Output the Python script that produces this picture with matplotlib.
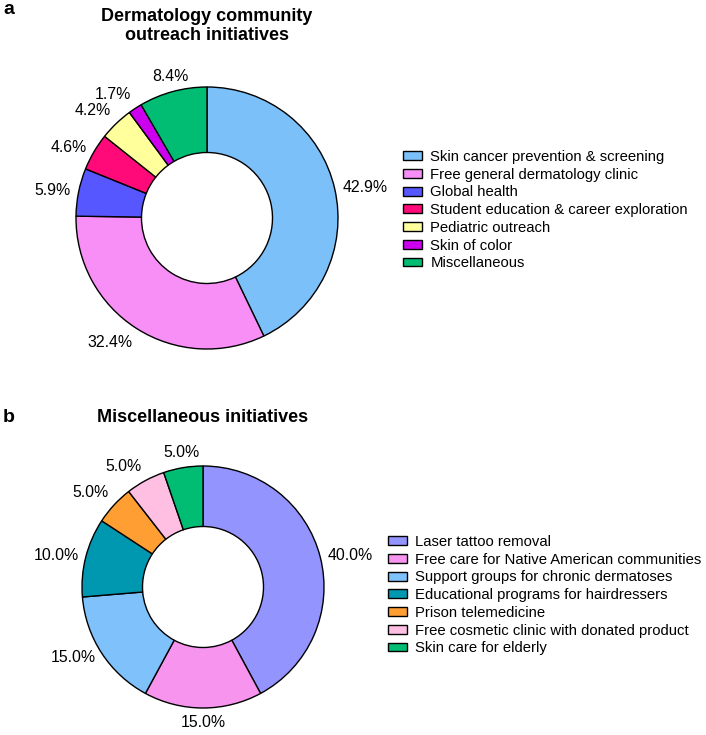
import numpy as np
import matplotlib
matplotlib.use("Agg")
import matplotlib.pyplot as plt

plt.rcParams['font.family'] = ['Liberation Sans', 'DejaVu Sans']

# Data
top_labels = [
    "Skin cancer prevention & screening",
    "Free general dermatology clinic",
    "Global health",
    "Student education & career exploration",
    "Pediatric outreach",
    "Skin of color",
    "Miscellaneous",
]
top_values = [42.9, 32.4, 5.9, 4.6, 4.2, 1.7, 8.4]
top_colors = ['#7cc0fa', '#f78ff7', '#5757ff', '#ff0a78', '#ffff9c', '#cc00ee', '#00bd73']

bot_labels = [
    "Laser tattoo removal",
    "Free care for Native American communities",
    "Support groups for chronic dermatoses",
    "Educational programs for hairdressers",
    "Prison telemedicine",
    "Free cosmetic clinic with donated product",
    "Skin care for elderly",
]
bot_values = [40.0, 15.0, 15.0, 10.0, 5.0, 5.0, 5.0]
bot_colors = ['#9494ff', '#f794ee', '#7fc1fb', '#0097b0', '#ff9f33', '#ffbfe3', '#00bd73']

W, H = 706, 735
fig = plt.figure(figsize=(W / 100, H / 100), dpi=100)


def donut(cx, cy, r, values, colors, names, leg_xy):
    # axes sized so that radius 1 == r pixels
    half = 1.45 * r
    ax = fig.add_axes([(cx - half) / W, (H - cy - half) / H, 2 * half / W, 2 * half / H])
    wedges, texts = ax.pie(
        values,
        colors=colors,
        labels=[f"{v:.1f}%" for v in values],
        labeldistance=1.06,
        startangle=90,
        counterclock=False,
        wedgeprops=dict(width=0.5, edgecolor='black', linewidth=1.0),
        textprops=dict(fontsize=11.4),
    )
    # tidy label alignment around the ring
    for w, t in zip(wedges, texts):
        ang = np.deg2rad((w.theta1 + w.theta2) / 2)
        dx, dy = np.cos(ang), np.sin(ang)
        t.set_ha('center' if abs(dx) < 0.3 else ('left' if dx > 0 else 'right'))
        t.set_va('center' if abs(dy) < 0.6 else ('bottom' if dy > 0 else 'top'))
    ax.set_xlim(-1.45, 1.45)
    ax.set_ylim(-1.45, 1.45)
    ax.set_aspect('equal')
    ax.axis('off')
    fig.legend(
        wedges, names,
        loc='upper left',
        bbox_to_anchor=(leg_xy[0] / W, 1 - leg_xy[1] / H),
        bbox_transform=fig.transFigure,
        frameon=False,
        fontsize=10.7,
        handlelength=1.3,
        handleheight=0.54,
        handletextpad=0.55,
        labelspacing=0.25,
        borderpad=0,
        borderaxespad=0,
    )
    return ax


donut(207, 218, 131, top_values, top_colors, top_labels, (403, 150))
donut(203, 587, 121, bot_values, bot_colors, bot_labels, (388, 535))

# Titles and panel letters
fig.text(207 / W, 1 - 26 / H, "Dermatology community\noutreach initiatives",
         ha='center', va='center', fontsize=13, fontweight='bold', linespacing=1.1)
fig.text(203 / W, 1 - 417 / H, "Miscellaneous initiatives",
         ha='center', va='center', fontsize=13, fontweight='bold')
fig.text(3 / W, 1 - 9 / H, "a", ha='left', va='center', fontsize=14, fontweight='bold')
fig.text(3 / W, 1 - 417 / H, "b", ha='left', va='center', fontsize=14, fontweight='bold')

fig.savefig("out.png", dpi=100)
